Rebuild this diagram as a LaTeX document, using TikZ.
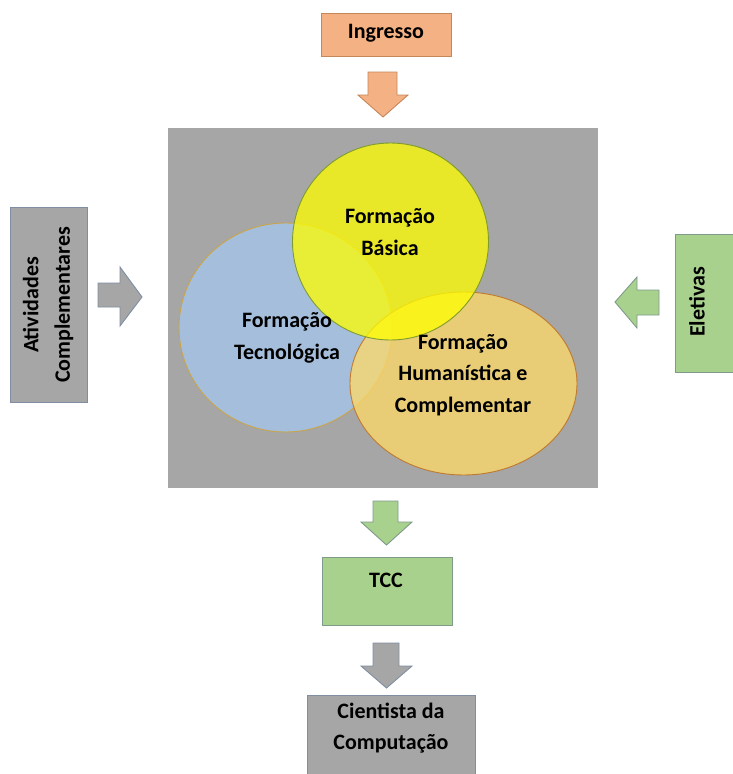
\documentclass[tikz,border=0pt]{standalone}
\usepackage{fontspec}
\setmainfont{Carlito}
\usetikzlibrary{shapes.geometric}
\definecolor{orfill}{HTML}{F4B183}
\definecolor{ordraw}{HTML}{C4875A}
\definecolor{gyfill}{HTML}{A6A6A6}
\definecolor{gydraw}{HTML}{7F8EA3}
\definecolor{gnfill}{HTML}{A9D18E}
\definecolor{gndraw}{HTML}{7E9A8A}
\definecolor{blfill}{HTML}{A5BEDB}
\definecolor{bldraw}{HTML}{C9A548}
\definecolor{elfill}{HTML}{FFD966}
\definecolor{eldraw}{HTML}{BF7A30}
\definecolor{yefill}{HTML}{FFFF00}
\definecolor{yedraw}{HTML}{7E9B2E}
\begin{document}
\begin{tikzpicture}[x=1pt,y=-1pt,
  box/.style={rectangle, inner sep=0pt, line width=0.9pt},
  blob/.style={ellipse, inner sep=0pt, line width=0.9pt},
  txt/.style={font=\fontsize{22}{31.5}\selectfont\bfseries, align=center, inner sep=0pt, text=black},
  barrow/.style={line width=0.9pt, line join=miter}]
\useasboundingbox (0,0) rectangle (732,774);
% boxes
\node[box, fill=orfill, draw=ordraw, minimum width=130, minimum height=43] (ingbox) at (386,34.5) {};
\node[txt] (ing) at (386,33) {Ingresso};
\node[box, fill=gyfill, minimum width=430, minimum height=360] (area) at (383,308) {};
\node[box, fill=gyfill, draw=gydraw, minimum width=77, minimum height=195] (ativbox) at (48.5,304.5) {};
\node[txt, rotate=90] (ativ) at (48,305) {Atividades\\Complementares};
\node[box, fill=gnfill, draw=gndraw, minimum width=64, minimum height=138] (eletbox) at (707,303) {};
\node[txt, rotate=90] (elet) at (697,302) {Eletivas};
\node[box, fill=gnfill, draw=gndraw, minimum width=130, minimum height=68] (tccbox) at (387,591) {};
\node[txt] (tcc) at (386,580) {TCC};
\node[box, fill=gyfill, draw=gydraw, minimum width=168, minimum height=85] (cientbox) at (391,737.5) {};
\node[txt] (cient) at (391,728) {Cientista da\\Computação};
% circles
\node[blob, fill=blfill, draw=bldraw, minimum width=213, minimum height=209] (tec) at (285.5,327.5) {};
\node[blob, fill=elfill, fill opacity=0.75, draw=eldraw, minimum width=227, minimum height=183] (hum) at (463.5,383.5) {};
\node[blob, fill=yefill, fill opacity=0.75, draw=yedraw, minimum width=196, minimum height=197] (bas) at (390.5,241.5) {};
\node[txt] (tbas) at (390,232) {Formação\\Básica};
\node[txt] (ttec) at (287,338) {Formação\\Tecnológica};
\node[txt] (thum) at (463,375) {Formação\\Humanística e\\Complementar};
% block arrows
\draw[barrow, fill=orfill, draw=ordraw] (368,72) -- (397,72) -- (397,95) -- (408,95) -- (383,117) -- (358,95) -- (368,95) -- cycle;
\draw[barrow, fill=gyfill, draw=gydraw] (98,283) -- (120,283) -- (120,267) -- (142,297) -- (120,326) -- (120,307) -- (98,307) -- cycle;
\draw[barrow, fill=gnfill, draw=gndraw] (659,290) -- (637,290) -- (637,277) -- (615,302) -- (637,328) -- (637,315) -- (659,315) -- cycle;
\draw[barrow, fill=gnfill, draw=gndraw] (373,501) -- (398,501) -- (398,522) -- (412,522) -- (386.5,545) -- (361,522) -- (373,522) -- cycle;
\draw[barrow, fill=gyfill, draw=gydraw] (373,643) -- (399,643) -- (399,666) -- (412,666) -- (386.5,688) -- (361,666) -- (373,666) -- cycle;
\end{tikzpicture}
\end{document}
